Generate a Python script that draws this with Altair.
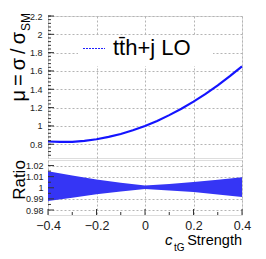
import altair as alt
import pandas as pd

# ---- data ----
c_vals = [-0.40, -0.35, -0.30, -0.25, -0.20, -0.15, -0.10, -0.05, 0.00,
          0.05, 0.10, 0.15, 0.20, 0.25, 0.30, 0.35, 0.40]
mu_vals = [0.830, 0.825, 0.827, 0.837, 0.855, 0.880, 0.912, 0.953, 1.000,
           1.055, 1.118, 1.187, 1.265, 1.350, 1.443, 1.543, 1.650]

ratio_c = [-0.4, -0.3, -0.2, -0.1, 0.0, 0.1, 0.2, 0.3, 0.4]
ratio_hi = [1.0149, 1.0110, 1.0075, 1.0045, 1.0020, 1.0035, 1.0051, 1.0073, 1.0095]
ratio_lo = [0.9882, 0.9910, 0.9941, 0.9967, 0.9988, 0.9975, 0.9962, 0.9940, 0.9917]

legend_label = "tt\u0304h+j LO"

x_major = [-0.4, -0.2, 0.0, 0.2, 0.4]
x_minor = [-0.3, -0.1, 0.1, 0.3]
ytop_major = [0.8, 1.0, 1.2, 1.4, 1.6, 1.8, 2.0, 2.2]
ytop_minor = [round(0.68 + 0.04 * i, 2) for i in range(39)]
ybot_major = [0.98, 0.99, 1.0, 1.01, 1.02]
ybot_minor = [0.985, 0.995, 1.005, 1.015]

# ---- style ----
W = 194
H_TOP = 142
H_BOT = 55
FONT = "Liberation Sans"
BLUE = "#1414ff"
BAND = "#3535f5"
FRAME = "#333333"
GRID = "#b4b4b4"

xscale = alt.Scale(domain=[-0.4, 0.4], nice=False, zero=False)
ytop = alt.Scale(domain=[0.65, 2.2], nice=False, zero=False)
ybot = alt.Scale(domain=[0.9755, 1.025], nice=False, zero=False)

common = dict(ticks=False, domain=False, grid=True, gridDash=[2, 2], gridColor=GRID,
              title=None, labelFont=FONT, labelColor="#222222", labelFlush=False,
              labelOverlap=False)
ax_top_x = alt.Axis(values=x_major, labels=False, **common)
ax_top_y = alt.Axis(values=ytop_major, format="~g", labelFontSize=9, labelPadding=6, **common)
ax_bot_x = alt.Axis(values=x_major, format="~g", labelFontSize=12.5, labelPadding=4, **common)
ax_bot_y = alt.Axis(values=ybot_major, format="~g", labelFontSize=9, labelPadding=5, **common)

df_mu = pd.DataFrame({"c": c_vals, "mu": mu_vals})
df_ratio = pd.DataFrame({"c": ratio_c, "hi": ratio_hi, "lo": ratio_lo})


def txt(s, x, y, size, angle=0, align="left", baseline="alphabetic", style="normal"):
    return alt.Chart(pd.DataFrame({"t": [s]})).mark_text(
        font=FONT, fontSize=size, angle=angle, align=align, baseline=baseline,
        fontStyle=style, color="#000000"
    ).encode(x=alt.value(x), y=alt.value(y), text="t:N")


def yticks(vals, scale, axis, length):
    return alt.Chart(pd.DataFrame({"v": vals})).mark_rule(color=FRAME, strokeWidth=1).encode(
        y=alt.Y("v:Q", scale=scale, axis=axis), x=alt.value(0), x2=alt.value(length))


def xticks(vals, axis, h, length):
    return alt.Chart(pd.DataFrame({"v": vals})).mark_rule(color=FRAME, strokeWidth=1).encode(
        x=alt.X("v:Q", scale=xscale, axis=axis), y=alt.value(h), y2=alt.value(h - length))


# ---- top panel ----
top_line = alt.Chart(df_mu).mark_line(color=BLUE, strokeWidth=2.2).encode(
    x=alt.X("c:Q", scale=xscale, axis=ax_top_x),
    y=alt.Y("mu:Q", scale=ytop, axis=ax_top_y),
)

legend_box = alt.Chart(pd.DataFrame({"a": [0]})).mark_rect(color="white").encode(
    x=alt.value(30), x2=alt.value(165), y=alt.value(20), y2=alt.value(50))
legend_line = alt.Chart(pd.DataFrame({"a": [0]})).mark_rule(
    stroke="#2020ff", color="#2020ff", strokeDash=[2, 1], strokeWidth=1.2).encode(
    x=alt.value(35), x2=alt.value(57), y=alt.value(32.5))

THIN = "\u2009"
top = alt.layer(
    top_line,
    legend_box,
    yticks(ytop_minor, ytop, ax_top_y, 3),
    yticks(ytop_major, ytop, ax_top_y, 6),
    legend_line,
    txt(legend_label, 65, 38.5, 22),
    txt("SM", -18, -3, 12, angle=270, align="right"),
    txt("\u03bc" + THIN + "=" + THIN + "\u03c3" + THIN + "/" + THIN + "\u03c3",
        -23, 16, 20, angle=270, align="right"),
).properties(width=W, height=H_TOP)

# ---- bottom panel ----
band = alt.Chart(df_ratio).mark_area(color=BAND, opacity=1).encode(
    x=alt.X("c:Q", scale=xscale, axis=ax_bot_x),
    y=alt.Y("lo:Q", scale=ybot, axis=ax_bot_y),
    y2="hi:Q",
)

bottom = alt.layer(
    band,
    yticks(ybot_minor, ybot, ax_bot_y, 3),
    yticks(ybot_major, ybot, ax_bot_y, 6),
    xticks(x_minor, ax_bot_x, H_BOT, 3),
    xticks(x_major, ax_bot_x, H_BOT, 6),
    txt("Ratio", -23, 20, 17, angle=270, align="center"),
    txt("Strength", 194, 85, 14.5, align="right"),
    txt("c", 117, 85, 15, style="italic"),
    txt("tG", 126, 91, 10),
).properties(width=W, height=H_BOT)

chart = alt.vconcat(top, bottom, spacing=0).properties(
    padding={"left": 0, "top": 3, "right": 0, "bottom": 0}
).configure_view(stroke=FRAME, strokeWidth=1).configure(background="white")

chart.save("out.html", embed_options={"renderer": "svg", "actions": False})
